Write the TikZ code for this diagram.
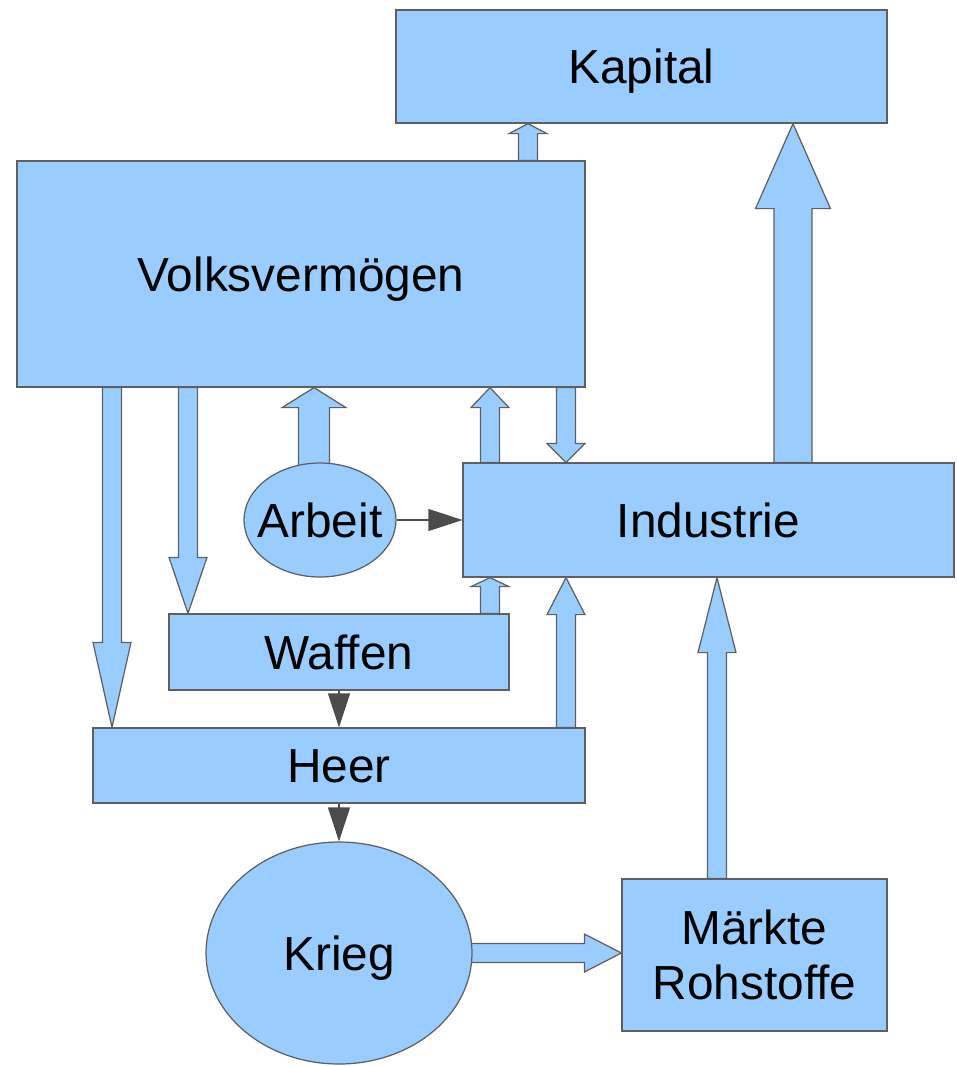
\documentclass[tikz,border=0pt]{standalone}
\usepackage{fontspec}
\setmainfont{Liberation Sans}
\usetikzlibrary{arrows.meta,shapes,calc,backgrounds}
\definecolor{boxblue}{HTML}{99CCFF}
\definecolor{rim}{HTML}{5F5F5F}
\tikzstyle{box}=[rectangle,fill=boxblue,draw=rim,line width=0.35pt,font=\fontsize{13.6}{15.6}\selectfont,align=center,inner sep=0pt]
\tikzstyle{block}=[box,text height=9.7pt,text depth=0pt]
\tikzstyle{roundbox}=[block,ellipse]
\tikzstyle{fatarrow}=[fill=boxblue,draw=rim,line width=0.35pt]
\tikzstyle{thinarrow}=[draw=black!70,line width=0.35pt,-{Triangle[length=3.4mm,width=2.2mm]}]

% block arrow: start, tip, shaft half width, head half width, head length
\newcommand{\blockarrow}[5]{%
  \coordinate (ba0) at (#1);
  \coordinate (ba1) at (#2);
  \coordinate (bab) at ($(ba1)!#5!(ba0)$);
  \draw[fatarrow] ($(ba0)!#3!90:(ba1)$) -- ($(bab)!#3!90:(ba1)$) -- ($(bab)!#4!90:(ba1)$)
    -- (ba1) -- ($(bab)!#4!-90:(ba1)$) -- ($(bab)!#3!-90:(ba1)$) -- ($(ba0)!#3!-90:(ba1)$) -- cycle;
}

\begin{document}
\begin{tikzpicture}[x=0.1mm,y=-0.1mm]
  \useasboundingbox (0,0) rectangle (956,1066);

  \node[block,minimum width=49.1mm,minimum height=11.3mm] (kap) at (641.5,66.5) {Kapital};
  \node[block,minimum width=56.8mm,minimum height=22.6mm] (vv) at (301,274) {Volksvermögen};
  \node[block,minimum width=49.1mm,minimum height=11.4mm] (ind) at (708.5,520) {Industrie};
  \node[roundbox,inner xsep=-1.1mm,minimum width=15.2mm,minimum height=11.4mm] (arb) at (320,520) {Arbeit};
  \node[block,minimum width=34mm,minimum height=7.6mm] (waf) at (339,652) {Waffen};
  \node[block,minimum width=49.2mm,minimum height=7.5mm] (heer) at (339,765.5) {Heer};
  \node[roundbox,minimum width=26.6mm,minimum height=22.2mm] (krieg) at (339,953) {Krieg};
  \node[box,minimum width=26.5mm,minimum height=15.2mm] (mr) at (754.5,955) {Märkte\\Rohstoffe};

  % flows between the blocks
  \begin{pgfonlayer}{background}
    \foreach \x/\src/\dst/\sw/\hw/\hl in {528/vv.north/kap.south/0.95/1.9/1.0,
        793/ind.north/kap.south/1.9/3.75/8.5, 112/vv.south/heer.north/0.95/1.9/8.5,
        188/vv.south/waf.north/0.95/1.9/5.6, 314/arb.center/vv.south/1.55/3.2/2.0,
        490/ind.north/vv.south/0.95/1.9/2.0, 566/vv.south/ind.north/0.95/1.9/1.9,
        490/waf.north/ind.south/0.95/1.9/0.9, 566/heer.north/ind.south/0.95/1.9/3.7,
        717/mr.north/ind.south/0.95/1.9/7.5}
      {\blockarrow{\x,0 |- \src}{\x,0 |- \dst}{\sw mm}{\hw mm}{\hl mm}}
    \blockarrow{krieg.center}{mr.west |- krieg.center}{0.95mm}{1.9mm}{3.7mm}
  \end{pgfonlayer}

  \draw[thinarrow] (arb.east) -- (arb.east -| ind.west);
  \draw[thinarrow] (waf) -- (heer);
  \draw[thinarrow] (heer) -- (krieg);
\end{tikzpicture}
\end{document}
